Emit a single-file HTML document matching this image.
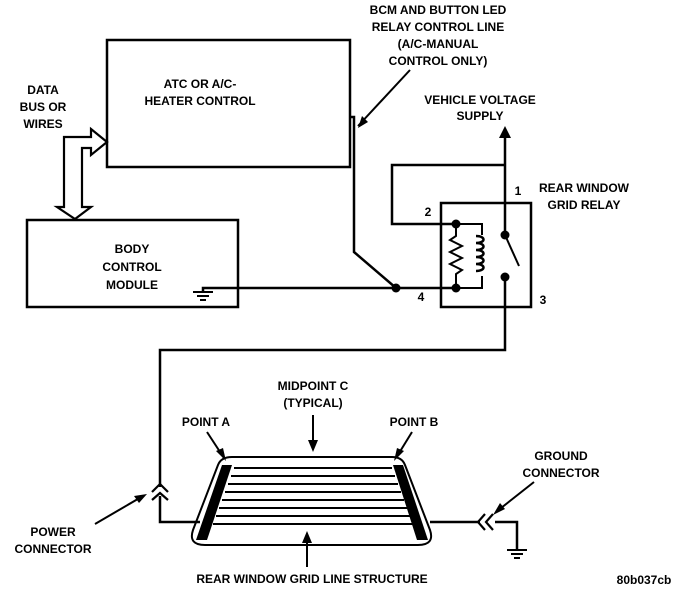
<!DOCTYPE html>
<html><head><meta charset="utf-8"><style>
html,body{margin:0;padding:0;background:#fff;}
svg{display:block}
text{font-family:"Liberation Sans",Arial,sans-serif;font-size:12px;font-weight:bold;fill:#000;text-anchor:middle}
</style></head><body>
<svg width="688" height="592" viewBox="0 0 688 592" xmlns="http://www.w3.org/2000/svg">
<g fill="none" stroke="#000" stroke-width="2.5">
<rect x="107" y="40" width="243" height="127"/>
<rect x="27" y="220" width="211" height="87"/>
<rect x="441" y="203" width="90" height="104"/>
<path d="M64,207 L64,137 L91,137 L91,129 L107,142 L91,155 L91,148 L82,148 L82,207 L91,207 L75,219 L57,207 Z" stroke-width="2.2"/>
<path d="M350,117 L354,117 L354,252 L396,288"/>
<path d="M203,292 L203,288 L456,288"/>
<path d="M505,130 L505,235 M505,165 L392,165 L392,224 L456,224"/>
<path d="M456,224 L482,224 L482,235 M482,276 L482,288 L456,288 M456,224 L456,236 L450,240 L462,246 L450,252 L462,258 L450,264 L462,270 L456,274 L456,288" stroke-width="2"/>
<path d="M476,236 c10,0 10,7 0,7 c10,0 10,7 0,7 c10,0 10,7 0,7 c10,0 10,7 0,7 c10,0 10,7 0,7" stroke-width="2.5"/>
<path d="M505,235 L519,266" stroke-width="2"/>
<path d="M505,277 L505,350 L160,350 L160,487 M160,496 L160,522 L200,522"/>
<path d="M430,522 L480,522 M495,522 L517,522 L517,550"/>
<path d="M152,492 L160,484 L168,492 M152,500 L160,493 L168,500" stroke-width="2.2"/>
<path d="M485,514 L478,522 L485,530 M493,514 L486,522 L493,530" stroke-width="2.2"/>
<path d="M193,292 L213,292 M197,296 L209,296 M200,300 L206,300" stroke-width="2"/>
<path d="M507,550 L527,550 M511,554 L523,554 M514,558 L520,558" stroke-width="2"/>
<path d="M232,457 L392,457 Q402,457 405,465 L430,530 Q435,545 418,545 L205,545 Q188,545 193,530 L218,465 Q221,457 232,457 Z" stroke-width="2"/>
<path d="M234,468 L392,468 M231,476 L395,476 M228,484 L398,484 M225,492 L401,492 M222,500 L404,500 M219,508 L407,508 M216,516 L410,516 M213,524 L414,524" stroke-width="2"/>
</g>
<g fill="#000">
<circle cx="396" cy="288" r="4.5"/>
<circle cx="456" cy="224" r="4.5"/>
<circle cx="456" cy="288" r="4.5"/>
<circle cx="505" cy="235" r="4.5"/>
<circle cx="505" cy="277" r="4.5"/>
<polygon points="222,465 232,465 207,540 196,540"/>
<polygon points="393,465 403,465 428,540 417,540"/>
</g>
<g stroke="#000" stroke-width="2" fill="none">
<path d="M410,70 L358,126"/>
<path d="M207,432 L224,458"/>
<path d="M412,432 L396,458"/>
<path d="M313,415 L313,448"/>
<path d="M307,567 L307,535"/>
<path d="M95,524 L143,496"/>
<path d="M534,482 L496,512"/>
<path d="M505,142 L505,130"/>
</g>
<g fill="#000">
<polygon points="358,128 362,116 368,122"/>
<polygon points="226,461 216,451 223,448"/>
<polygon points="394,461 397,448 404,451"/>
<polygon points="313,452 308,440 318,440"/>
<polygon points="307,531 302,543 312,543"/>
<polygon points="147,494 134,496 139,503"/>
<polygon points="493,515 500,503 505,509"/>
<polygon points="505,126 499,138 511,138"/>
</g>
<text x="200" y="88">ATC OR A/C-</text>
<text x="200" y="105">HEATER CONTROL</text>
<text x="132" y="253">BODY</text>
<text x="132" y="271">CONTROL</text>
<text x="132" y="289">MODULE</text>
<text x="43" y="94">DATA</text>
<text x="43" y="111">BUS OR</text>
<text x="43" y="128">WIRES</text>
<text x="438" y="14">BCM AND BUTTON LED</text>
<text x="438" y="31">RELAY CONTROL LINE</text>
<text x="438" y="48">(A/C-MANUAL</text>
<text x="438" y="65">CONTROL ONLY)</text>
<text x="480" y="104">VEHICLE VOLTAGE</text>
<text x="480" y="120">SUPPLY</text>
<text x="584" y="192">REAR WINDOW</text>
<text x="584" y="209">GRID RELAY</text>
<text x="518" y="195">1</text>
<text x="428" y="216">2</text>
<text x="543" y="304">3</text>
<text x="421" y="301">4</text>
<text x="313" y="390">MIDPOINT C</text>
<text x="313" y="407">(TYPICAL)</text>
<text x="206" y="426">POINT A</text>
<text x="414" y="426">POINT B</text>
<text x="561" y="460">GROUND</text>
<text x="561" y="477">CONNECTOR</text>
<text x="53" y="536">POWER</text>
<text x="53" y="553">CONNECTOR</text>
<text x="312" y="583">REAR WINDOW GRID LINE STRUCTURE</text>
<text x="644" y="584">80b037cb</text>
</svg>
</body></html>
